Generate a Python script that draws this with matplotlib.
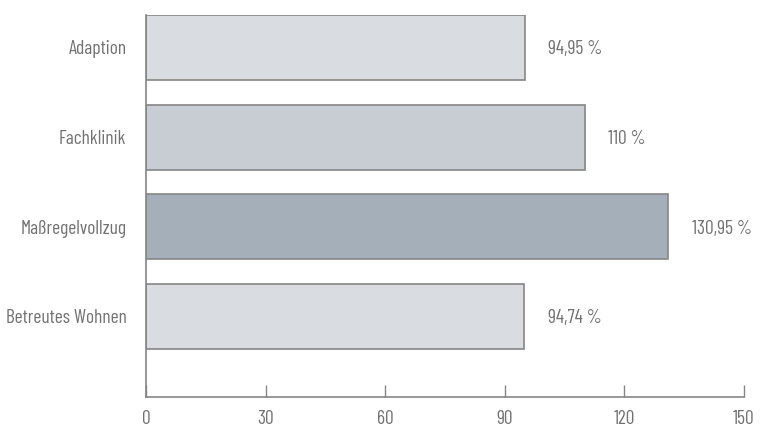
import matplotlib
matplotlib.use("Agg")
import matplotlib.pyplot as plt
from matplotlib import font_manager

# data
categories = ["Adaption", "Fachklinik", "Maßregelvollzug", "Betreutes Wohnen"]
values = [94.95, 110, 130.95, 94.74]
value_labels = ["94,95 %", "110 %", "130,95 %", "94,74 %"]
bar_colors = ["#d9dce0", "#c8cdd3", "#a5afb9", "#d9dce0"]
xticks = [0, 30, 60, 90, 120, 150]

# condensed font, like the original
names = {f.name for f in font_manager.fontManager.ttflist}
fam = "DejaVu Sans"
for cand in ["Barlow Condensed", "Asap Condensed", "Archivo Narrow"]:
    if cand in names:
        fam = cand
        break
plt.rcParams["font.family"] = [fam, "DejaVu Sans"]
plt.rcParams["font.weight"] = "normal"

txt = "#727272"
edge = "#858585"
fs = 14

fig = plt.figure(figsize=(7.6, 4.26), dpi=100)
ax = fig.add_axes([146 / 760, 1 - 397 / 426, 598 / 760, 382 / 426])

ypos = list(range(len(categories)))
ax.barh(ypos, values, height=0.725, color=bar_colors, edgecolor=edge, linewidth=1.2)

for y, v, lab in zip(ypos, values, value_labels):
    ax.text(v + 6, y, lab, va="center_baseline", ha="left", fontsize=fs, color=txt)

ax.set_xlim(0, 150)
ax.set_ylim(3.9, -0.3625)
ax.set_yticks(ypos)
ax.set_yticklabels(categories)
ax.set_xticks(xticks)
ax.set_xticklabels([str(t) for t in xticks])

for s in ["top", "right"]:
    ax.spines[s].set_visible(False)
for s in ["left", "bottom"]:
    ax.spines[s].set_color(edge)
    ax.spines[s].set_linewidth(1.2)

ax.tick_params(axis="y", length=0, pad=14, labelsize=fs, labelcolor=txt)
ax.tick_params(axis="x", direction="in", length=9, width=1, color=edge,
               pad=9, labelsize=fs, labelcolor=txt)

fig.savefig("out.png", dpi=100)
